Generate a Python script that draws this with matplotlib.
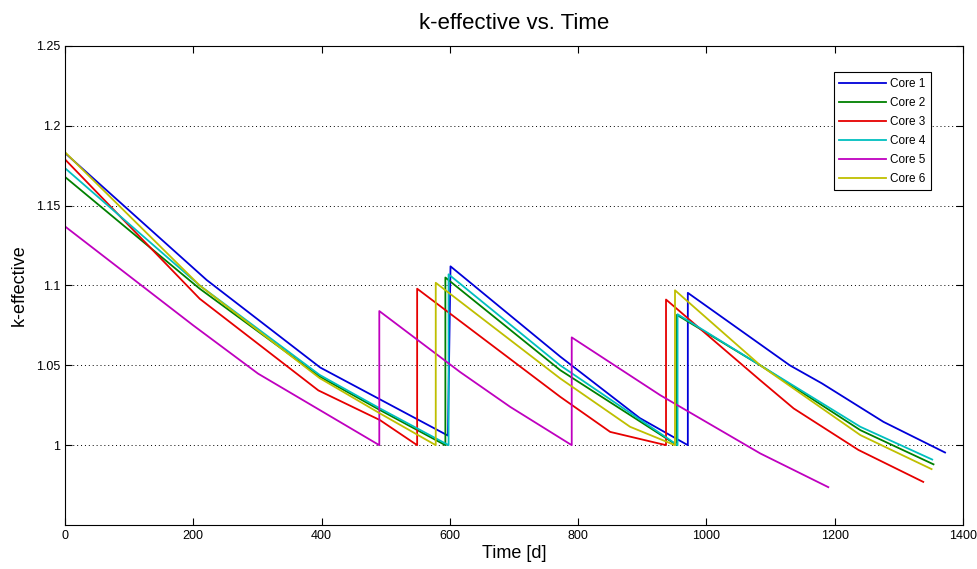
import matplotlib
matplotlib.use('Agg')
from matplotlib import pyplot as plt

# time [d] and k-effective for each core (jumps are repeated times)
t1 = [0, 221, 398, 597, 601, 772, 896, 971, 971, 1130, 1180, 1276, 1372]
k1 = [1.183, 1.1034, 1.0486, 1.006, 1.112, 1.0555, 1.017, 1.0, 1.0954, 1.05, 1.0387, 1.0146, 0.9954]

t2 = [0, 210, 397, 491, 593, 593, 772, 954, 954, 1084, 1240, 1354]
k2 = [1.168, 1.098, 1.043, 1.022, 1.0, 1.105, 1.047, 1.0, 1.0816, 1.05, 1.0094, 0.988]

t3 = [0, 210, 395, 491, 549, 549, 772, 850, 937, 937, 1084, 1136, 1237, 1338]
k3 = [1.179, 1.0917, 1.0343, 1.0157, 1.0, 1.098, 1.0303, 1.0083, 1.0, 1.0912, 1.0406, 1.023, 0.997, 0.977]

t4 = [0, 210, 397, 491, 598, 598, 772, 955, 955, 1084, 1240, 1352]
k4 = [1.1735, 1.1, 1.044, 1.023, 1.0, 1.107, 1.05, 1.0, 1.082, 1.05, 1.0115, 0.991]

t5 = [0, 200, 301, 490, 490, 616, 694, 790, 790, 928, 1084, 1190]
k5 = [1.137, 1.075, 1.0448, 1.0, 1.084, 1.0458, 1.024, 1.0, 1.0675, 1.0313, 0.9948, 0.9737]

t6 = [0, 210, 397, 491, 578, 578, 772, 881, 951, 951, 1084, 1240, 1351]
k6 = [1.1835, 1.1, 1.042, 1.0199, 1.0, 1.1017, 1.0418, 1.0115, 1.0, 1.097, 1.05, 1.0063, 0.985]

series = [(t1, k1, 'Core 1', (0, 0, 0.85)),
          (t2, k2, 'Core 2', (0, 0.5, 0)),
          (t3, k3, 'Core 3', (0.9, 0, 0)),
          (t4, k4, 'Core 4', (0, 0.75, 0.75)),
          (t5, k5, 'Core 5', (0.75, 0, 0.75)),
          (t6, k6, 'Core 6', (0.75, 0.75, 0))]

xticks = [0, 200, 400, 600, 800, 1000, 1200, 1400]
yticks = [1.0, 1.05, 1.1, 1.15, 1.2, 1.25]
ylabels = ['1', '1.05', '1.1', '1.15', '1.2', '1.25']

plt.rcParams['font.family'] = ['Liberation Sans', 'DejaVu Sans']

fig = plt.figure(figsize=(9.77, 5.69), dpi=100)
ax = fig.add_axes([65 / 977, 1 - 525 / 569, 898 / 977, 479 / 569])

for t, k, name, col in series:
    ax.plot(t, k, color=col, linewidth=1.3, label=name)

ax.set_xlim(0, 1400)
ax.set_ylim(0.95, 1.25)
ax.set_xticks(xticks)
ax.set_xticklabels([str(x) for x in xticks], fontsize=9)
ax.set_yticks(yticks)
ax.set_yticklabels(ylabels, fontsize=9)
ax.tick_params(direction='in', top=True, right=True, length=5, width=0.8)
ax.yaxis.grid(True, linestyle=(0, (1, 3)), color='black', linewidth=0.7)
for sp in ax.spines.values():
    sp.set_linewidth(0.8)

ax.set_title('k-effective vs. Time', fontsize=16, pad=12)
ax.set_xlabel('Time [d]', fontsize=13, labelpad=2)
ax.set_ylabel('k-effective', fontsize=13, labelpad=6)

leg = ax.legend(loc='upper right', bbox_to_anchor=(0.964, 0.945), fontsize=8.5,
                fancybox=False, framealpha=1, edgecolor='black',
                handlelength=4.0, borderpad=0.45, labelspacing=0.6,
                handletextpad=0.3, borderaxespad=0)
leg.get_frame().set_linewidth(0.8)

fig.savefig('out.png', dpi=100)
